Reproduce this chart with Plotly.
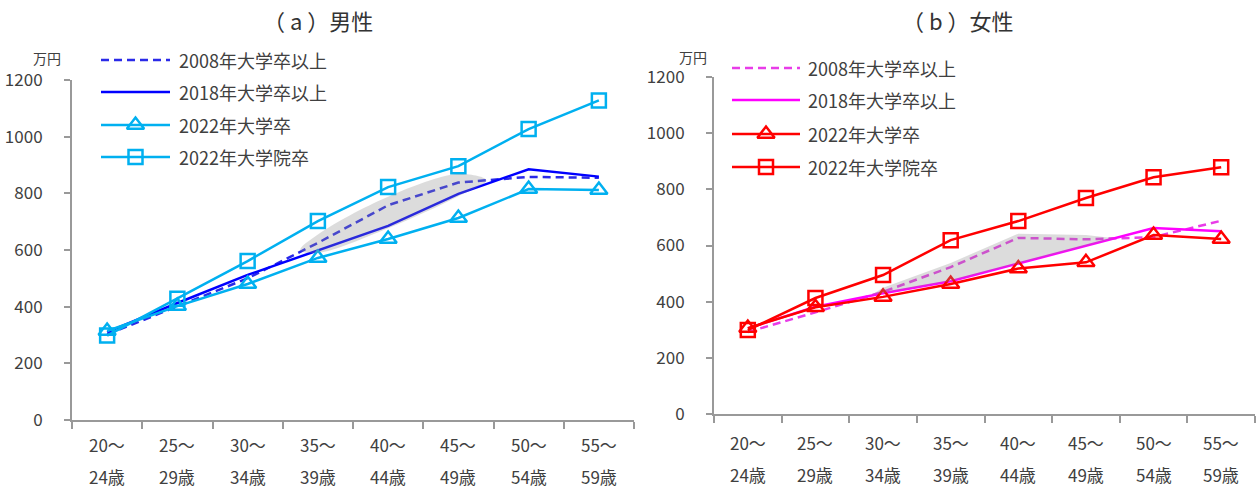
import plotly.graph_objects as go

age_top = ["20～", "25～", "30～", "35～", "40～", "45～", "50～", "55～"]
age_bottom = ["24歳", "29歳", "34歳", "39歳", "44歳", "49歳", "54歳", "59歳"]
y_ticks = [0, 200, 400, 600, 800, 1000, 1200]

series_names = ["2008年大学卒以上", "2018年大学卒以上", "2022年大学卒", "2022年大学院卒"]

male_2008 = [302, 400, 500, 625, 758, 838, 858, 855]
male_2018 = [310, 413, 512, 598, 685, 798, 885, 859]
male_2022_univ = [314, 402, 480, 572, 639, 713, 815, 812]
male_2022_grad = [298, 428, 561, 702, 822, 896, 1027, 1128]

female_2008 = [292, 362, 435, 523, 627, 622, 630, 688]
female_2018 = [305, 382, 430, 473, 536, 598, 662, 651]
female_2022_univ = [306, 380, 417, 463, 518, 540, 637, 623]
female_2022_grad = [299, 413, 495, 619, 687, 769, 843, 879]

W, H = 1257, 490
FONT = "Noto Sans CJK JP"
TXT = "#404040"
AX = "#999999"

BLUE = "#0000FF"
BLUE_D = "#2A2AE8"
CYAN = "#00B0F0"
RED = "#FF0000"
MAG = "#FF00FF"
MAG_D = "#E83CE8"
GRAY = "rgba(140,140,140,0.3)"

idx = list(range(len(age_top)))

fig = go.Figure()


def interp(arr, t):
    i = int(t)
    if i >= len(arr) - 1:
        return arr[-1]
    f = t - i
    return arr[i] + (arr[i + 1] - arr[i]) * f


def add_panel(xa, ya, s2008, s2018, s_univ, s_grad, c_old, c_old_d, c_new):
    xr, yr = xa, ya
    fig.add_trace(go.Scatter(x=idx, y=s2008, mode="lines", xaxis=xr, yaxis=yr,
                             line=dict(color=c_old_d, width=2.5, dash="8px,5px"), showlegend=False))
    fig.add_trace(go.Scatter(x=idx, y=s2018, mode="lines", xaxis=xr, yaxis=yr,
                             line=dict(color=c_old, width=2.5), showlegend=False))
    fig.add_trace(go.Scatter(x=idx, y=s_univ, mode="lines+markers", xaxis=xr, yaxis=yr,
                             line=dict(color=c_new, width=2.5),
                             marker=dict(symbol="triangle-up-open", size=15, color=c_new,
                                         line=dict(width=2.5, color=c_new)), showlegend=False))
    fig.add_trace(go.Scatter(x=idx, y=s_grad, mode="lines+markers", xaxis=xr, yaxis=yr,
                             line=dict(color=c_new, width=2.5),
                             marker=dict(symbol="square-open", size=14, color=c_new,
                                         line=dict(width=2.5, color=c_new)), showlegend=False))


add_panel("x", "y", male_2008, male_2018, male_2022_univ, male_2022_grad, BLUE, BLUE_D, CYAN)
add_panel("x2", "y2", female_2008, female_2018, female_2022_univ, female_2022_grad, MAG, MAG_D, RED)

# Male highlight: rounded band between the 2008 and 2018 curves (35-49歳)
t0, t1 = 2.75, 5.4
start_y = (interp(male_2008, t0) + interp(male_2018, t0)) / 2 + 15
end_y = interp(male_2008, t1)
bx = [t0] + [3, 4, 5] + [t1] + [5, 4, 3] + [t0]
by = [start_y] + [male_2008[i] + 30 for i in (3, 4, 5)] + [end_y] + \
     [male_2018[i] - 8 for i in (5, 4, 3)] + [start_y]
fig.add_trace(go.Scatter(x=bx, y=by, mode="lines", fill="toself", fillcolor=GRAY,
                         line=dict(width=0, color="rgba(0,0,0,0)", shape="spline", smoothing=1.0),
                         xaxis="x", yaxis="y", showlegend=False, hoverinfo="skip"))

# Female highlight: polygon between 2008 and 2018 curves where 2008 is higher
d = [a - b for a, b in zip(female_2008, female_2018)]
cross = None
for i in range(4, len(d) - 1):
    if d[i] > 0 and d[i + 1] <= 0:
        cross = i + d[i] / (d[i] - d[i + 1])
        break
s0 = None
for i in range(0, 3):
    if d[i] <= 0 and d[i + 1] > 0:
        s0 = i + (-d[i]) / (d[i + 1] - d[i])
        break
k_end = int(cross)
up_idx = list(range(int(s0) + 1, k_end + 1))
fx = [s0] + up_idx + [cross] + up_idx[::-1] + [s0]
fy = [interp(female_2018, s0)] + [female_2008[i] + 15 for i in up_idx] + [interp(female_2018, cross)] + \
     [female_2018[i] for i in up_idx[::-1]] + [interp(female_2018, s0)]
fig.add_trace(go.Scatter(x=fx, y=fy, mode="lines", fill="toself", fillcolor=GRAY,
                         line=dict(width=0, color="rgba(0,0,0,0)"),
                         xaxis="x2", yaxis="y2", showlegend=False, hoverinfo="skip"))

# Legend samples on a pixel overlay axis
leg_specs = [
    dict(x0=101, x1=170, tx=177, rows=[60, 92, 125, 157], cols=[BLUE_D, BLUE, CYAN, CYAN]),
    dict(x0=732, x1=800, tx=806, rows=[68, 100, 134, 167], cols=[MAG_D, MAG, RED, RED]),
]
annotations = []
for spec in leg_specs:
    for k, (ry, col) in enumerate(zip(spec["rows"], spec["cols"])):
        dash = "8px,5px" if k == 0 else "solid"
        fig.add_trace(go.Scatter(x=[spec["x0"], spec["x1"]], y=[ry, ry], mode="lines",
                                 line=dict(color=col, width=2.5, dash=dash),
                                 xaxis="x3", yaxis="y3", showlegend=False, hoverinfo="skip"))
        if k >= 2:
            sym = "triangle-up-open" if k == 2 else "square-open"
            fig.add_trace(go.Scatter(x=[(spec["x0"] + spec["x1"]) / 2], y=[ry], mode="markers",
                                     marker=dict(symbol=sym, size=14 if k == 3 else 15, color=col,
                                                 line=dict(width=2.5, color=col)),
                                     xaxis="x3", yaxis="y3", showlegend=False, hoverinfo="skip"))
        annotations.append(dict(x=spec["tx"], y=ry, xref="x3", yref="y3", text=series_names[k],
                                showarrow=False, xanchor="left", yanchor="middle",
                                font=dict(family=FONT, size=18, color=TXT)))

# x category labels (two rows)
for xa, y1, y2 in (("x", 444, 476), ("x2", 442, 474)):
    for i in idx:
        annotations.append(dict(x=i, y=1 - y1 / H, xref=xa, yref="paper", text=age_top[i],
                                showarrow=False, xanchor="center", yanchor="middle",
                                font=dict(family=FONT, size=17, color=TXT)))
        annotations.append(dict(x=i, y=1 - y2 / H, xref=xa, yref="paper", text=age_bottom[i],
                                showarrow=False, xanchor="center", yanchor="middle",
                                font=dict(family=FONT, size=17, color=TXT)))

# titles and units
annotations += [
    dict(x=318 / W, y=1 - 20 / H, xref="paper", yref="paper", text="（ a ）男性", showarrow=False,
         xanchor="center", yanchor="middle", font=dict(family=FONT, size=22, color="#333333")),
    dict(x=957 / W, y=1 - 20 / H, xref="paper", yref="paper", text="（ b ）女性", showarrow=False,
         xanchor="center", yanchor="middle", font=dict(family=FONT, size=22, color="#333333")),
    dict(x=47 / W, y=1 - 58 / H, xref="paper", yref="paper", text="万円", showarrow=False,
         xanchor="center", yanchor="middle", font=dict(family=FONT, size=14, color=TXT)),
    dict(x=693 / W, y=1 - 57 / H, xref="paper", yref="paper", text="万円", showarrow=False,
         xanchor="center", yanchor="middle", font=dict(family=FONT, size=14, color=TXT)),
]

bounds = [i - 0.5 for i in range(len(age_top) + 1)]


def xaxis(dom, anchor):
    return dict(domain=dom, anchor=anchor, range=[-0.5, len(age_top) - 0.5], showgrid=False,
                zeroline=False, showline=True, linecolor=AX, linewidth=2, automargin=False,
                tickmode="array", tickvals=bounds, ticktext=[""] * len(bounds),
                ticks="outside", ticklen=7, tickwidth=2, tickcolor=AX, fixedrange=True)


def yaxis(dom, anchor):
    return dict(domain=dom, anchor=anchor, range=[0, 1200], showgrid=False, zeroline=False,
                showline=True, linecolor=AX, linewidth=2, tickmode="array", tickvals=y_ticks,
                ticks="outside", ticklen=6, tickwidth=2, tickcolor=AX, ticklabelstandoff=18,
                automargin=False,
                tickfont=dict(family=FONT, size=17, color=TXT), fixedrange=True)


fig.update_layout(
    width=W, height=H, margin=dict(l=0, r=0, t=0, b=0, autoexpand=False),
    paper_bgcolor="white", plot_bgcolor="rgba(0,0,0,0)",
    showlegend=False,
    xaxis=xaxis([72 / W, 634 / W], "y"),
    yaxis=yaxis([1 - 420 / H, 1 - 80 / H], "x"),
    xaxis2=xaxis([714 / W, 1255 / W], "y2"),
    yaxis2=yaxis([1 - 414 / H, 1 - 77 / H], "x2"),
    xaxis3=dict(domain=[0, 1], anchor="y3", range=[0, W], visible=False, fixedrange=True,
                automargin=False),
    yaxis3=dict(domain=[0, 1], anchor="x3", range=[H, 0], visible=False, fixedrange=True,
                automargin=False),
    annotations=annotations,
    font=dict(family=FONT, color=TXT),
)

fig.write_html("out.html", config={"displayModeBar": False})
